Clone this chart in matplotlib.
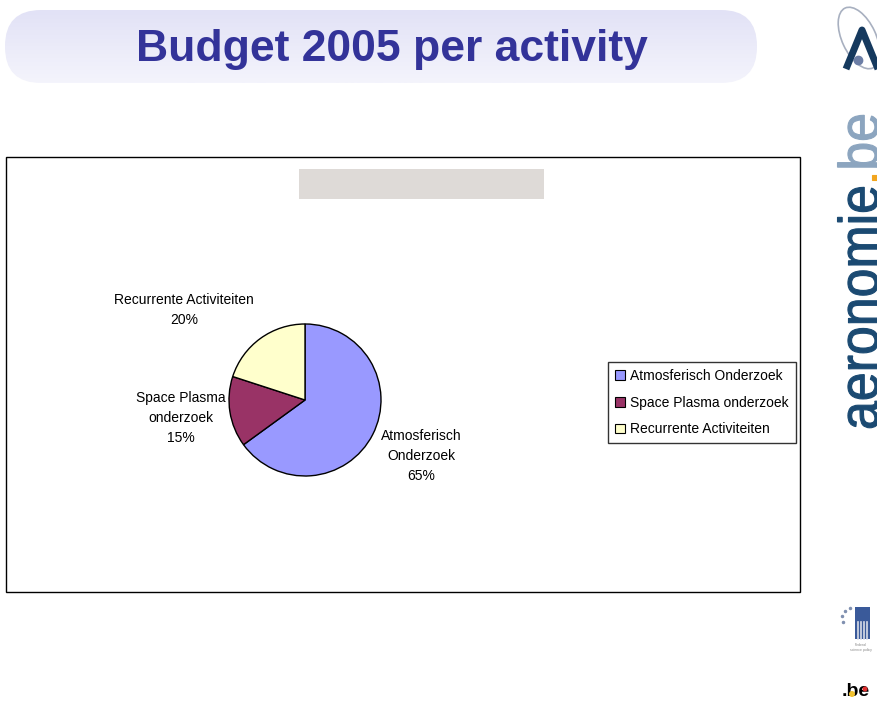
import numpy as np
import matplotlib.pyplot as plt
from matplotlib.patches import FancyBboxPatch, Rectangle, Ellipse, PathPatch, Circle
from matplotlib.colors import LinearSegmentedColormap
from matplotlib.textpath import TextPath, TextToPath
from matplotlib.font_manager import FontProperties
import matplotlib.transforms as mtransforms

plt.rcParams['font.family'] = ['Liberation Sans', 'DejaVu Sans']

# budget shares per activity (percent)
activities = ['Atmosferisch Onderzoek', 'Space Plasma onderzoek', 'Recurrente Activiteiten']
label_text = ['Atmosferisch\nOnderzoek', 'Space Plasma\nonderzoek', 'Recurrente Activiteiten']
shares = [65, 15, 20]
colors = ['#9999FF', '#993366', '#FFFFCC']

W, H = 877, 706
fig = plt.figure(figsize=(W / 100, H / 100), dpi=100)
fig.patch.set_facecolor('white')

def fx(px):
    return px / W

def fy(py):
    return 1 - py / H

# full-figure overlay axes in pixel coordinates (y downwards)
bg = fig.add_axes([0, 0, 1, 1])
bg.axis('off')

# title banner with a soft vertical gradient
banner = FancyBboxPatch((5, 10), 752, 73, boxstyle='round,pad=0,rounding_size=36',
                        fc='none', ec='none')
bg.add_patch(banner)
grad = np.linspace(0, 1, 64).reshape(-1, 1)
cmap = LinearSegmentedColormap.from_list('banner', ['#E2E2F6', '#F4F4FC'])
im = bg.imshow(grad, cmap=cmap, extent=(5, 757, 83, 10), aspect='auto', zorder=0)
im.set_clip_path(banner)
bg.set_xlim(0, W)
bg.set_ylim(H, 0)
bg.text(392, 49, 'Budget 2005 per activity', ha='center', va='center',
        fontsize=32, fontweight='bold', color='#333399')

# chart frame and empty title box
bg.add_patch(Rectangle((6, 157), 794, 435, fc='white', ec='black', lw=1))
bg.add_patch(Rectangle((299, 169), 245, 30, fc='#DEDAD7', ec='none'))

# pie chart
r_px = 76
cx, cy = 305, 400
ax = fig.add_axes([fx(cx - 2.5 * r_px), fy(cy + 2.5 * r_px),
                   5 * r_px / W, 5 * r_px / H])
wedges, _ = ax.pie(shares, colors=colors, startangle=90, counterclock=False,
                   radius=1.0, wedgeprops=dict(edgecolor='black', linewidth=1))
ax.set_xlim(-2.5, 2.5)
ax.set_ylim(-2.5, 2.5)
ax.axis('off')

# label anchors in pie-radius units
label_pos = [(1.53, -0.74), (-1.63, -0.24), (-1.59, 1.19)]
for txt, val, (lx, ly) in zip(label_text, shares, label_pos):
    ax.text(lx, ly, '%s\n%d%%' % (txt, val), ha='center', va='center',
            fontsize=10, linespacing=1.55, color='black')

# legend
leg = fig.legend(wedges, activities, loc='upper left',
                 bbox_to_anchor=(fx(608), fy(362)), frameon=True,
                 fontsize=10, handlelength=0.7, handleheight=0.7,
                 handletextpad=0.4, labelspacing=0.92, borderpad=0.5,
                 borderaxespad=0, fancybox=False)
leg.get_frame().set_edgecolor('black')
leg.get_frame().set_linewidth(1)
for h in leg.legend_handles:
    h.set_edgecolor('black')
    h.set_linewidth(0.8)

# institute logo, top right
bg.add_patch(Ellipse((859, 38), 34, 66, angle=-25, fill=False, ec='#A8B0C0', lw=1.2))
bg.plot([846, 862, 878], [69, 30, 69], color='#15395E', lw=5, solid_capstyle='butt')
bg.plot([858], [60], 'o', color='#6C7EA6', ms=6)

# vertical site name, stretched along the reading direction
prop = FontProperties(family='Liberation Sans', size=100)
t2p = TextToPath()

def advance(s):
    return t2p.get_text_width_height_descent(s, prop, ismath=False)[0]

parts = [('aeronomie', '#1B4A72'), ('.', '#F2A51E'), ('be', '#8CA5BF')]
sx = 317.0 / advance('aeronomie.be')
sy = 29.0 / (0.519 * 100.0)
tr = (mtransforms.Affine2D().scale(sx, sy).rotate_deg(90)
      .translate(878, H - 430))
offset = 0.0
for word, col in parts:
    path = TextPath((offset, 0), word, size=100, prop=prop)
    fig.patches.append(PathPatch(path, fc=col, ec=col, lw=0.8,
                                 transform=tr, figure=fig))
    offset += advance(word)

# federal science policy logo
bg.add_patch(Rectangle((855, 607), 15, 32, fc='#3A5A9A', ec='none'))
for xx in [858, 861, 864, 867]:
    bg.plot([xx, xx], [622, 639], color='#D8DCE8', lw=1.2)
for px_, py_ in [(843, 622), (842, 616), (845, 611), (850, 608)]:
    bg.plot(px_, py_, 'o', color='#8090B0', ms=1.5)
bg.text(861, 643, 'Federal\nscience policy', ha='center', va='top',
        fontsize=2.5, color='#888888')

# .be logo
bg.text(856, 691, '.be', ha='center', va='center', fontsize=14,
        fontweight='bold', color='black')
bg.add_patch(Circle((852, 694), 3, fc='#F2C230', ec='none', zorder=5))
bg.add_patch(Circle((865, 689), 2.5, fc='#E03030', ec='none', zorder=5))

fig.savefig('out.png', dpi=100)
